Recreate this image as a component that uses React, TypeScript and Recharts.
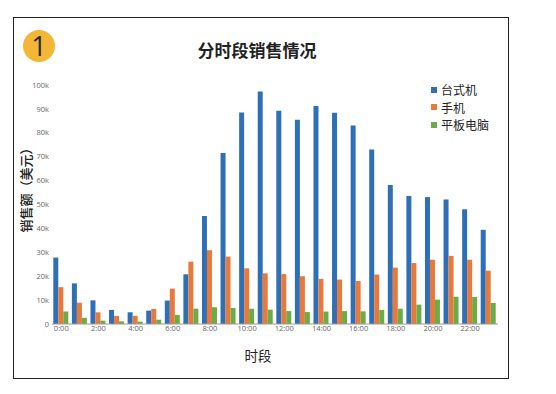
import { BarChart, Bar, XAxis, YAxis, Legend } from "recharts";

const hours = [
  "0:00", "1:00", "2:00", "3:00", "4:00", "5:00", "6:00", "7:00",
  "8:00", "9:00", "10:00", "11:00", "12:00", "13:00", "14:00", "15:00",
  "16:00", "17:00", "18:00", "19:00", "20:00", "21:00", "22:00", "23:00",
];

// 台式机
const desktop = [
  27800, 17000, 9900, 5900, 4900, 5600, 9800, 20800,
  45200, 71600, 88500, 97300, 89200, 85500, 91200, 88400,
  83100, 73000, 58200, 53600, 53100, 52100, 48000, 39400,
];

// 手机
const mobile = [
  15400, 8900, 4900, 3400, 3400, 6300, 14800, 26100,
  30900, 28200, 23300, 21200, 20900, 20000, 18900, 18600,
  18000, 20700, 23600, 25500, 26900, 28500, 26900, 22300,
];

// 平板电脑
const tablet = [
  5200, 2600, 1400, 1100, 1000, 1800, 3800, 6400,
  7000, 6700, 6400, 6000, 5400, 5000, 5200, 5400,
  5300, 5900, 6400, 8100, 10200, 11400, 11300, 8800,
];

const seriesNames = ["台式机", "手机", "平板电脑"];
const seriesColors = ["#2e6fb6", "#e9793a", "#6aad47"];

const yTicks = [0, 10000, 20000, 30000, 40000, 50000, 60000, 70000, 80000, 90000, 100000];

const chartData = hours.map((h, i) => ({
  hour: h,
  desktop: desktop[i],
  mobile: mobile[i],
  tablet: tablet[i],
}));

const cjk = '"Noto Sans CJK SC", "Noto Sans", sans-serif';
const tickFont = '"Open Sans", "Noto Sans", sans-serif';

const LegendBox = () => (
  <div style={{ fontFamily: cjk, fontSize: 12, color: "#222" }}>
    {seriesNames.map((name, i) => (
      <div key={name} style={{ display: "flex", alignItems: "center", height: 17.6 }}>
        <span
          style={{
            display: "inline-block",
            width: 6,
            height: 6,
            background: seriesColors[i],
            marginRight: 4,
          }}
        />
        <span style={{ lineHeight: "17.6px", whiteSpace: "nowrap" }}>{name}</span>
      </div>
    ))}
  </div>
);

export default function App() {
  return (
    <div
      style={{
        position: "absolute",
        left: 0,
        top: 0,
        width: 556,
        height: 394,
        background: "#fff",
        fontFamily: cjk,
        overflow: "hidden",
      }}
    >
      <div
        style={{
          position: "absolute",
          left: 13,
          top: 17,
          width: 496,
          height: 362,
          border: "1.5px solid #222",
          boxSizing: "border-box",
        }}
      />
      <div
        style={{
          position: "absolute",
          left: 23,
          top: 30,
          width: 32,
          height: 32,
          borderRadius: "50%",
          background: "#f3b637",
          color: "#2a2a2a",
          fontFamily: tickFont,
          fontSize: 27,
          lineHeight: "32px",
          textAlign: "center",
        }}
      >
        1
      </div>
      <div
        style={{
          position: "absolute",
          left: 157,
          top: 38,
          width: 200,
          textAlign: "center",
          fontSize: 17,
          fontWeight: 600,
          color: "#222",
          lineHeight: "24px",
        }}
      >
        分时段销售情况
      </div>
      <div
        style={{
          position: "absolute",
          left: 25,
          top: 187,
          transform: "translate(-50%, -50%) rotate(-90deg)",
          whiteSpace: "nowrap",
          fontSize: 13,
          fontWeight: 500,
          color: "#222",
        }}
      >
        销售额（美元）
      </div>
      <div
        style={{
          position: "absolute",
          left: 208,
          top: 345,
          width: 100,
          textAlign: "center",
          fontSize: 13.5,
          color: "#222",
          lineHeight: "20px",
        }}
      >
        时段
      </div>
      <div style={{ position: "absolute", left: 0, top: 0 }}>
        <BarChart
          width={556}
          height={394}
          data={chartData}
          margin={{ top: 85, right: 58, bottom: 50, left: 12 }}
          barCategoryGap="7%"
          barGap={0}
        >
          <XAxis
            dataKey="hour"
            interval={1}
            tickLine={false}
            tickSize={0}
            tickMargin={2}
            height={20}
            axisLine={{ stroke: "#9a9a9a" }}
            tick={{ fontSize: 7.5, fill: "#666", fontFamily: tickFont }}
          />
          <YAxis
            width={40}
            domain={[0, 100000]}
            ticks={yTicks}
            axisLine={false}
            tickLine={false}
            tickSize={0}
            tickMargin={3}
            interval={0}
            tickFormatter={(v: number) => (v === 0 ? "0" : `${v / 1000}k`)}
            tick={{ fontSize: 7.5, fill: "#666", fontFamily: tickFont }}
          />
          <Legend
            layout="vertical"
            verticalAlign="middle"
            align="center"
            content={<LegendBox />}
            wrapperStyle={{ top: 81, left: 431, width: 90 }}
          />
          <Bar dataKey="desktop" name={seriesNames[0]} fill={seriesColors[0]} isAnimationActive={false} />
          <Bar dataKey="mobile" name={seriesNames[1]} fill={seriesColors[1]} isAnimationActive={false} />
          <Bar dataKey="tablet" name={seriesNames[2]} fill={seriesColors[2]} isAnimationActive={false} />
        </BarChart>
      </div>
    </div>
  );
}
